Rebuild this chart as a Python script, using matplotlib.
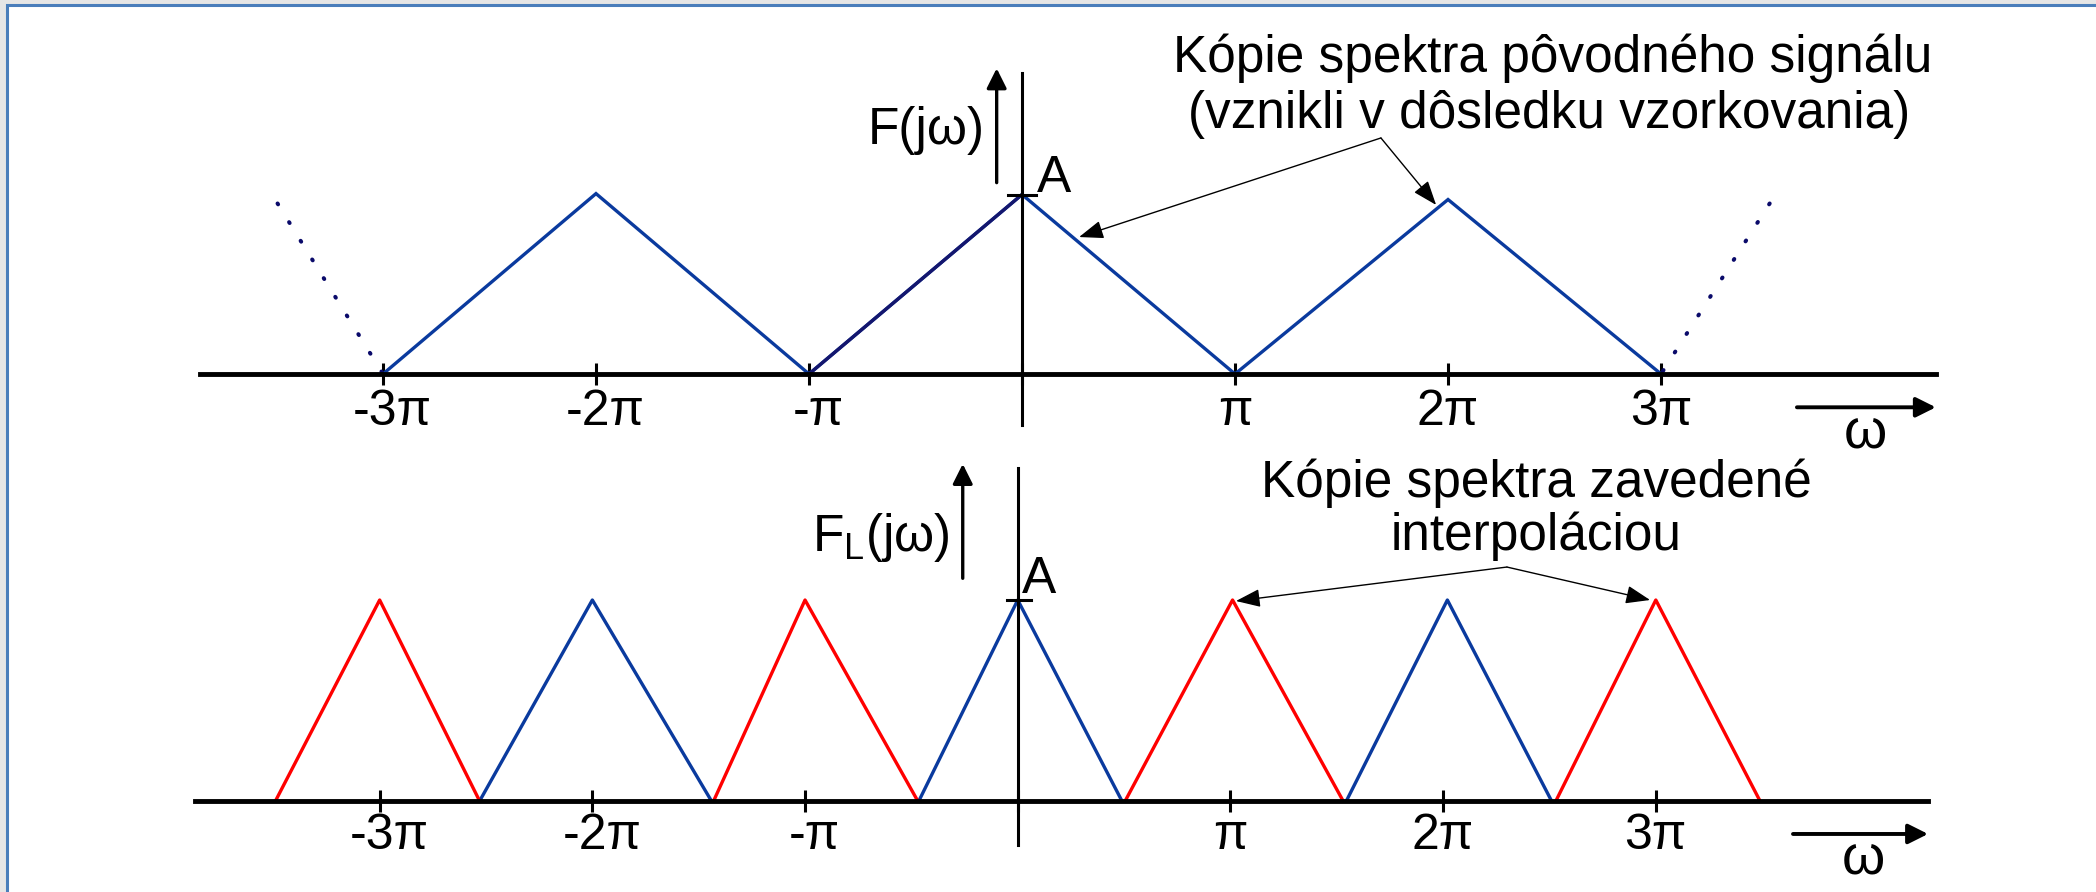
import matplotlib
matplotlib.use("Agg")
import matplotlib.pyplot as plt
from matplotlib.patches import Rectangle, ArrowStyle

plt.rcParams['font.family'] = ['Liberation Sans', 'DejaVu Sans']
plt.rcParams['mathtext.fontset'] = 'custom'
plt.rcParams['mathtext.rm'] = 'Liberation Sans'
plt.rcParams['mathtext.it'] = 'Liberation Sans:italic'
plt.rcParams['mathtext.bf'] = 'Liberation Sans:bold'

# ---- data (omega in units of pi, magnitude in units of A) ----
# spectrum of the sampled signal: periodic triangles
sampled_omega = [-3, -2, -1, 0, 1, 2, 3]
sampled_F = [0, 1.005, 0, 1.0, 0, 0.972, 0]
# dotted continuation outside +-3pi
tail_left_omega = [-3.495, -3.0]
tail_left_F = [0.95, 0.0]
tail_right_omega = [3.51, 3.0]
tail_right_F = [0.95, 0.0]

# spectrum after interpolation: original copies (blue) and new copies (red)
blue_left = [-2.53, -0.465, 1.545]
blue_peak = [-2.0, 0.0, 2.02]
blue_right = [-1.44, 0.49, 2.51]
red_left = [-3.49, -1.43, 0.505, 2.53]
red_peak = [-3.0, -1.0, 1.01, 3.0]
red_right = [-2.53, -0.47, 1.53, 3.49]
peak_value = 1.0

tick_values = [-3, -2, -1, 0, 1, 2, 3]
tick_labels = ['-3π', '-2π', '-π', '', 'π', '2π', '3π']

BLUE = '#0a3a9e'
NAVY = '#14166e'
DOT = '#0a0a6a'
RED = '#ff0000'
FS = 37
FS_TICK = 36

W, H = 2096, 892
fig = plt.figure(figsize=(W / 100, H / 100), dpi=100)
fig.patch.set_facecolor('#e6e6e6')
fig.add_artist(Rectangle((6.7 / W, -0.1), 1.2, (H - 5.3) / H + 0.1,
                         transform=fig.transFigure, facecolor='white',
                         edgecolor='#4a7ebb', lw=2.2, zorder=-10))

ax_top = fig.add_axes([0, 0.5, 1, 0.5])
ax_top.set_xlim(-4.798, 5.042)
ax_top.set_ylim(-0.4011, 2.0836)
ax_bot = fig.add_axes([0, 0, 1, 0.5])
ax_bot.set_xlim(-4.785, 5.0696)
ax_bot.set_ylim(-0.4527, 1.7662)

big_head = ArrowStyle('-|>', head_length=0.6, head_width=0.3)
thin_head = ArrowStyle('-|>', head_length=0.75, head_width=0.28)


def arrow(ax, start, end, style, lw):
    ax.annotate('', xy=end, xytext=start,
                arrowprops=dict(arrowstyle=style, mutation_scale=20, lw=lw,
                                color='black', shrinkA=0, shrinkB=0))


def frame_axis(ax, lo, hi, label_drop):
    ax.patch.set_visible(False)
    for s in ('top', 'left', 'right'):
        ax.spines[s].set_visible(False)
    sp = ax.spines['bottom']
    sp.set_position(('data', 0))
    sp.set_bounds(lo, hi)
    sp.set_linewidth(3.5)
    ax.set_yticks([])
    ax.set_xticks(tick_values)
    ax.tick_params(axis='x', direction='inout', length=16, width=2.2,
                   labelbottom=False)
    for t, lab in zip(tick_values, tick_labels):
        dx = 7 if lab.startswith('-') else 0
        ax.annotate(lab, xy=(t, 0), xytext=(dx, -label_drop),
                    textcoords='offset points', ha='center', va='baseline',
                    fontsize=FS_TICK)


# ---- top panel: sampled signal spectrum ----
frame_axis(ax_top, -3.86, 4.29, 36.7)
ax_top.plot(sampled_omega, sampled_F, color=BLUE, lw=2.4, solid_joinstyle='miter')
ax_top.plot(sampled_omega[2:4], sampled_F[2:4], color=NAVY, lw=2.4)
for xs, ys in ((tail_left_omega, tail_left_F), (tail_right_omega, tail_right_F)):
    ax_top.plot(xs, ys, color=DOT, lw=2.9, linestyle=(0, (0.25, 5.2)),
                dash_capstyle='round')

ax_top.plot([0, 0], [-0.284, 1.679], color='black', lw=2.2)
ax_top.plot([-0.066, 0.066], [1, 1], color='black', lw=2.2)
arrow(ax_top, (-0.119, 1.066), (-0.119, 1.703), big_head, 2.4)
ax_top.text(-0.174, 1.280, 'F(jω)', ha='right', va='baseline', fontsize=FS)
ax_top.text(0.069, 1.016, 'A', ha='left', va='baseline', fontsize=FS)

ax_top.text(2.493, 1.684, 'Kópie spektra pôvodného signálu', ha='center',
            va='baseline', fontsize=FS)
ax_top.text(2.473, 1.369, '(vznikli v dôsledku vzorkovania)', ha='center',
            va='baseline', fontsize=FS)
for tip in ((0.268, 0.763), (1.944, 0.942)):
    arrow(ax_top, (1.685, 1.315), tip, thin_head, 1.0)

arrow(ax_top, (3.638, -0.1855), (4.29, -0.1855), big_head, 2.8)
ax_top.text(3.958, -0.414, 'ω', ha='center', va='baseline', fontsize=FS + 3)

# ---- bottom panel: spectrum after interpolation ----
frame_axis(ax_bot, -3.868, 4.278, 34.6)
for l, p, r in zip(blue_left, blue_peak, blue_right):
    ax_bot.plot([l, p, r], [0, peak_value, 0], color=BLUE, lw=2.4)
for l, p, r in zip(red_left, red_peak, red_right):
    ax_bot.plot([l, p, r], [0, peak_value, 0], color=RED, lw=2.4)

ax_bot.plot([0, 0], [-0.219, 1.655], color='black', lw=2.2)
ax_bot.plot([-0.049, 0.0625], [1, 1], color='black', lw=2.2)
arrow(ax_bot, (-0.2586, 1.108), (-0.2586, 1.677), big_head, 2.4)
ax_bot.text(-0.318, 1.244, r'F$_{\mathrm{L}}$(jω)', ha='right', va='baseline',
            fontsize=FS)
ax_bot.text(0.019, 1.036, 'A', ha='left', va='baseline', fontsize=FS)

ax_bot.text(2.439, 1.512, 'Kópie spektra zavedené', ha='center',
            va='baseline', fontsize=FS)
ax_bot.text(2.437, 1.247, 'interpoláciou', ha='center', va='baseline',
            fontsize=FS)
for tip in ((1.026, 0.995), (2.973, 1.0)):
    arrow(ax_bot, (2.300, 1.164), tip, thin_head, 1.0)

arrow(ax_bot, (3.645, -0.164), (4.28, -0.164), big_head, 2.8)
ax_bot.text(3.974, -0.368, 'ω', ha='center', va='baseline', fontsize=FS + 3)

fig.savefig('out.png', dpi=100, facecolor=fig.get_facecolor())
